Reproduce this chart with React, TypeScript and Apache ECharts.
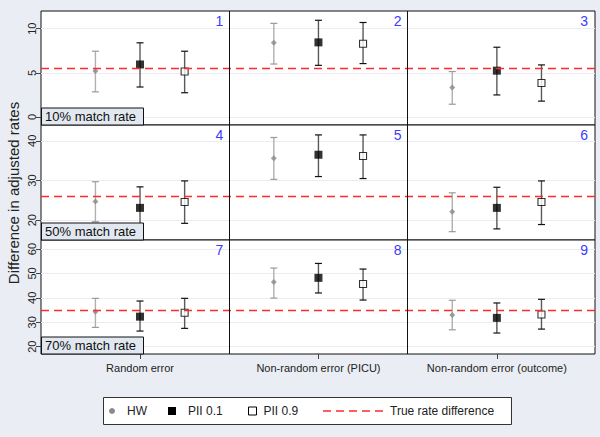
import React, { useEffect, useRef } from "react";
import * as echarts from "echarts";

// ---- data ----
const categories = ["Random error", "Non-random error (PICU)", "Non-random error (outcome)"];
const matchRates = ["10% match rate", "50% match rate", "70% match rate"];
const trueDiff = [5.5, 26, 35];

const yMin = [-0.9, 15, 17];
const yMax = [12, 44, 63.7];
const yTicks = [
  [0, 5, 10],
  [20, 30, 40],
  [20, 30, 40, 50, 60],
];

// rows = match rate, columns = error type
const hwEst = [[5.2, 8.4, 3.35], [24.7, 35.6, 22.1], [34.3, 46.5, 33.0]];
const hwLo = [[2.85, 6.0, 1.45], [19.6, 30.3, 17.1], [27.9, 39.9, 26.9]];
const hwHi = [[7.45, 10.6, 5.15], [29.7, 40.85, 26.9], [39.8, 52.2, 39.0]];

const pii1Est = [[5.95, 8.45, 5.25], [23.1, 36.5, 23.1], [32.3, 48.2, 31.8]];
const pii1Lo = [[3.4, 5.85, 2.5], [17.8, 31.0, 17.8], [26.4, 42.0, 25.6]];
const pii1Hi = [[8.4, 10.95, 7.9], [28.4, 41.5, 28.3], [38.7, 54.1, 37.9]];

const pii9Est = [[5.15, 8.3, 3.85], [24.6, 36.2, 24.6], [33.9, 45.7, 33.2]];
const pii9Lo = [[2.75, 6.05, 1.8], [19.2, 30.5, 18.9], [27.5, 39.1, 27.2]];
const pii9Hi = [[7.45, 10.7, 5.9], [29.9, 41.5, 29.9], [39.8, 51.8, 39.4]];

// ---- layout ----
const X_MIN = 0.445;
const X_MAX = 3.55;
const GRID_LEFT = 41;
const GRID_RIGHT = 595;
const rowTops = [11, 125, 240];
const rowHeights = [114, 115, 114];
const offsets = [-0.25, 0, 0.25];
const dividers = [1.5, 2.5];

const xToPx = (v: number) => GRID_LEFT + ((v - X_MIN) / (X_MAX - X_MIN)) * (GRID_RIGHT - GRID_LEFT);

const estimators = [
  { name: "HW", est: hwEst, lo: hwLo, hi: hwHi, bar: "#b0b0b0", cap: "#9a9a9a", symbol: "diamond", size: 6, color: "#8a8a8a", border: "#8a8a8a", bw: 0 },
  { name: "PII 0.1", est: pii1Est, lo: pii1Lo, hi: pii1Hi, bar: "#5a5a5a", cap: "#111111", symbol: "rect", size: 8, color: "#000000", border: "#000000", bw: 0 },
  { name: "PII 0.9", est: pii9Est, lo: pii9Lo, hi: pii9Hi, bar: "#5a5a5a", cap: "#111111", symbol: "rect", size: 7, color: "#ffffff", border: "#000000", bw: 1.1 },
];

const FONT = "Liberation Sans, Arial, sans-serif";
const RED = "#ff2a2a";

export default function App() {
  const ref = useRef<HTMLDivElement>(null);

  useEffect(() => {
    if (!ref.current) return;
    const chart = echarts.init(ref.current, undefined, { renderer: "svg" });

    const grids = rowTops.map((t, r) => ({
      left: GRID_LEFT,
      width: GRID_RIGHT - GRID_LEFT,
      top: t,
      height: rowHeights[r],
      show: true,
      backgroundColor: "#ffffff",
      borderColor: "#111111",
      borderWidth: 1,
    }));

    const xAxes = rowTops.map((_, r) => {
      const bottom = r === rowTops.length - 1;
      return {
        type: "value",
        gridIndex: r,
        min: X_MIN,
        max: X_MAX,
        axisLine: { show: false },
        splitLine: { show: false },
        axisTick: bottom
          ? { show: true, customValues: [1, 2, 3], length: 5, lineStyle: { color: "#444" } }
          : { show: false },
        axisLabel: bottom
          ? {
              show: true,
              customValues: [1, 2, 3],
              formatter: (v: number) => categories[Math.round(v) - 1] || "",
              fontSize: 11,
              color: "#222",
              fontFamily: FONT,
              margin: 8,
            }
          : { show: false },
      };
    });

    const yAxes = rowTops.map((_, r) => ({
      type: "value",
      gridIndex: r,
      min: yMin[r],
      max: yMax[r],
      axisLine: { show: false },
      axisTick: { show: true, customValues: yTicks[r], length: 5, lineStyle: { color: "#444" } },
      axisLabel: {
        show: true,
        customValues: yTicks[r],
        rotate: 90,
        fontSize: 11,
        color: "#222",
        fontFamily: FONT,
        margin: 4,
      },
      splitLine: { show: true, lineStyle: { color: "#e9edf3", width: 1 } },
    }));

    const series: any[] = [];
    rowTops.forEach((_, r) => {
      // true rate line + panel dividers
      series.push({
        name: "True rate difference",
        type: "line",
        xAxisIndex: r,
        yAxisIndex: r,
        data: [],
        itemStyle: { color: RED },
        lineStyle: { color: RED },
        markLine: {
          silent: true,
          symbol: "none",
          label: { show: false },
          animation: false,
          data: [
            { yAxis: trueDiff[r], lineStyle: { color: RED, type: [8, 5], width: 1.3 } },
            ...dividers.map((d) => ({ xAxis: d, lineStyle: { color: "#111", type: "solid", width: 1 } })),
          ],
        },
      });
      estimators.forEach((e, k) => {
        series.push({
          name: e.name,
          type: "custom",
          xAxisIndex: r,
          yAxisIndex: r,
          z: 3,
          itemStyle: { color: e.color },
          data: categories.map((_, c) => [c + 1 + offsets[k], e.lo[r][c], e.hi[r][c]]),
          encode: { x: 0, y: [1, 2] },
          renderItem: (params: any, api: any) => {
            const x = api.value(0);
            const top = api.coord([x, api.value(2)]);
            const bot = api.coord([x, api.value(1)]);
            const cw = 3.5;
            return {
              type: "group",
              children: [
                { type: "line", shape: { x1: top[0], y1: top[1], x2: bot[0], y2: bot[1] }, style: { stroke: e.bar, lineWidth: 1.4 } },
                { type: "line", shape: { x1: top[0] - cw, y1: top[1], x2: top[0] + cw, y2: top[1] }, style: { stroke: e.cap, lineWidth: 1.2 } },
                { type: "line", shape: { x1: bot[0] - cw, y1: bot[1], x2: bot[0] + cw, y2: bot[1] }, style: { stroke: e.cap, lineWidth: 1.2 } },
              ],
            };
          },
        });
        series.push({
          name: e.name,
          type: "scatter",
          xAxisIndex: r,
          yAxisIndex: r,
          z: 4,
          symbol: e.symbol,
          symbolSize: e.size,
          itemStyle: { color: e.color, borderColor: e.border, borderWidth: e.bw },
          data: categories.map((_, c) => [c + 1 + offsets[k], e.est[r][c]]),
        });
      });
    });

    const legendTop = 405;
    const legends: any[] = [
      { left: 109, itemWidth: 6, itemHeight: 6, gap: 7, data: [{ name: "HW", icon: "circle", itemStyle: { color: "#8a8a8a", borderWidth: 0 } }] },
      { left: 168, itemWidth: 8, itemHeight: 8, gap: 7, data: [{ name: "PII 0.1", icon: "rect", itemStyle: { color: "#000", borderWidth: 0 } }] },
      { left: 248, itemWidth: 8, itemHeight: 8, gap: 2, data: [{ name: "PII 0.9", icon: "rect", itemStyle: { color: "#fff", borderColor: "#000", borderWidth: 1 } }] },
      {
        left: 323,
        itemWidth: 60,
        itemHeight: 1.5,
        gap: 2,
        data: [
          {
            name: "True rate difference",
            icon: "path://M0,0h8v1.5h-8z M13,0h8v1.5h-8z M26,0h8v1.5h-8z M39,0h8v1.5h-8z M52,0h8v1.5h-8z",
            itemStyle: { color: RED, borderWidth: 0 },
          },
        ],
      },
    ].map(({ gap, ...l }) => ({
      ...l,
      top: legendTop,
      selectedMode: false,
      padding: 0,
      textStyle: { fontSize: 12, color: "#222", fontFamily: FONT, padding: [0, 0, 0, gap] },
      z: 20,
    }));

    const graphics: any[] = [
      {
        type: "rect",
        shape: { x: 103.5, y: 397.5, width: 408, height: 27 },
        style: { fill: "#ffffff", stroke: "#333", lineWidth: 1 },
        z: 1,
      },
      {
        type: "text",
        x: 13,
        y: 193,
        rotation: Math.PI / 2,
        style: { text: "Difference in adjusted rates", fontSize: 15, fill: "#222", fontFamily: FONT, align: "center", verticalAlign: "middle" },
        z: 10,
      },
    ];

    rowTops.forEach((t, r) => {
      const bottom = t + rowHeights[r];
      // match rate label box
      graphics.push({
        type: "rect",
        shape: { x: GRID_LEFT + 0.5, y: bottom - 17, width: 102, height: 17 },
        style: { fill: "#e2e8f0", stroke: "#111", lineWidth: 1 },
        z: 50,
      });
      graphics.push({
        type: "text",
        x: GRID_LEFT + 4,
        y: bottom - 8.5,
        style: { text: matchRates[r], fontSize: 13, fill: "#111", fontFamily: FONT, verticalAlign: "middle" },
        z: 51,
      });
      // panel numbers
      const rights = [xToPx(dividers[0]) - 6, xToPx(dividers[1]) - 6, GRID_RIGHT - 7];
      rights.forEach((xr, c) => {
        graphics.push({
          type: "text",
          x: xr,
          y: t + 9.5,
          style: {
            text: String(r * 3 + c + 1),
            fontSize: 14,
            fill: "#3b3bff",
            fontFamily: FONT,
            align: "right",
            verticalAlign: "middle",
          },
          z: 50,
        });
      });
    });

    chart.setOption({
      animation: false,
      backgroundColor: "#eaeef4",
      grid: grids,
      xAxis: xAxes,
      yAxis: yAxes,
      legend: legends,
      series,
      graphic: graphics,
    });

    return () => chart.dispose();
  }, []);

  return <div ref={ref} style={{ position: "fixed", left: 0, top: 0, width: 600, height: 437 }} />;
}
